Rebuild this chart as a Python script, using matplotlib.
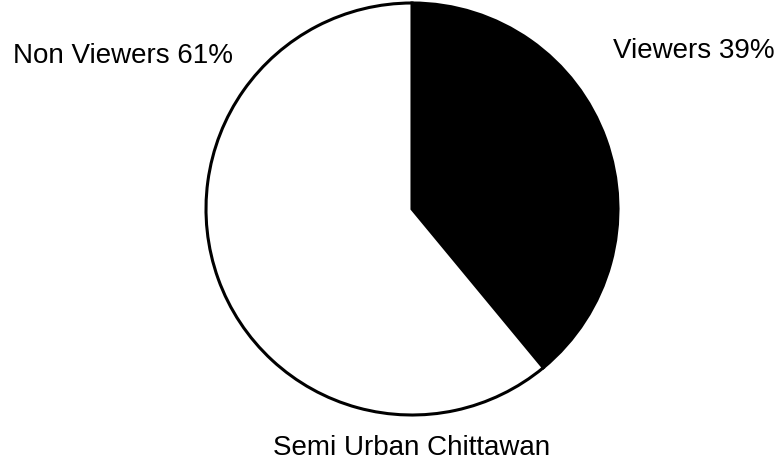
import matplotlib.pyplot as plt

labels = ["Viewers 39%", "Non Viewers 61%"]
shares = [39, 61]
colors = ["black", "white"]
title = "Semi Urban Chittawan"

W, H = 782, 466
fig = plt.figure(figsize=(W / 100, H / 100), dpi=100)
ax = fig.add_axes([0, 0, 1, 1])

# pie drawn in pixel-like data units, y counted from the bottom
ax.pie(shares, colors=colors, startangle=90, counterclock=False,
       center=(412, H - 209), radius=206, frame=True,
       wedgeprops=dict(edgecolor="black", linewidth=2.2))
ax.set_xlim(0, W)
ax.set_ylim(0, H)
ax.set_aspect("equal")
ax.axis("off")

font = dict(family="Liberation Sans", fontsize=20, color="black")
ax.text(775, H - 58, labels[0], ha="right", va="baseline", **font)
ax.text(13, H - 63, labels[1], ha="left", va="baseline", **font)
ax.text(412, H - 455, title, ha="center", va="baseline", **font)

fig.savefig("out.png", dpi=100, facecolor="white")
